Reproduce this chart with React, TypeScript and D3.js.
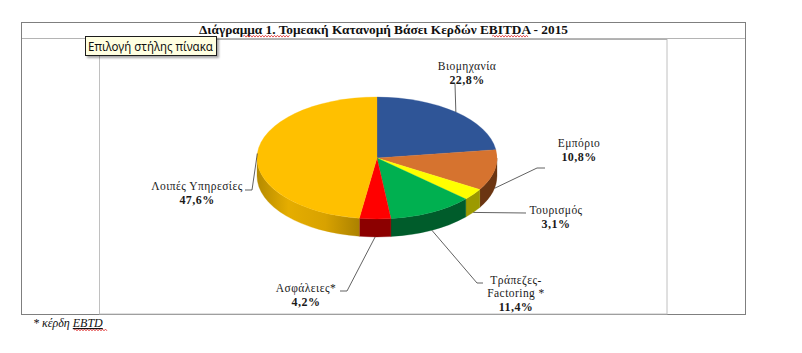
import React from "react";
import * as d3 from "d3";

// ---- data ----
const categories = ["Βιομηχανία", "Εμπόριο", "Τουρισμός", "Τράπεζες-Factoring *", "Ασφάλειες*", "Λοιπές Υπηρεσίες"];
const values = [22.8, 10.8, 3.1, 11.4, 4.2, 47.6];
const pctLabels = ["22,8%", "10,8%", "3,1%", "11,4%", "4,2%", "47,6%"];
const labelLines = [["Βιομηχανία"], ["Εμπόριο"], ["Τουρισμός"], ["Τράπεζες-", "Factoring  *"], ["Ασφάλειες*"], ["Λοιπές Υπηρεσίες"]];
const titleText = "Διάγραμμα 1. Τομεακή Κατανομή  Βάσει Κερδών EBITDA - 2015";
const footnoteText = "* κέρδη ";
const footnoteAbbr = "EBTD";
const tooltipText = "Επιλογή στήλης πίνακα";

// ---- styles / layout ----
const topColors = ["#2f5597", "#d6732f", "#ffff00", "#00b050", "#ff0000", "#ffc000"];
const sideColors = ["#1f3864", "#6b3512", "#9c9a00", "#005c2b", "#8c0000", "url(#goldSide)"];
const W = 802, H = 353;
const cx = 377, cy = 158, rx = 120, ry = 61, depth = 18;
const lineGap = 13.5;
// label layout: center x, first line center y, leader elbow points
const labelLayout = [
  { x: 467, y: 66, elbow: [[455, 84]] },
  { x: 579, y: 143, elbow: [[545, 168], [537, 168]] },
  { x: 556, y: 210, elbow: [[526, 213]] },
  { x: 516, y: 280, elbow: [[483, 283], [477, 283]] },
  { x: 306, y: 288, elbow: [[340, 291], [347, 291]] },
  { x: 197, y: 186, elbow: [[245, 190], [252, 190]] },
];

function squiggle(x0: number, x1: number, y: number) {
  const p = d3.path();
  p.moveTo(x0, y);
  let up = true;
  for (let x = x0 + 1.5; x <= x1; x += 1.5) {
    p.lineTo(x, y + (up ? -0.9 : 0.9));
    up = !up;
  }
  return p.toString();
}

export default function App() {
  const pie = d3.pie<number>().sort(null).value((d) => d).startAngle(0).endAngle(2 * Math.PI);
  const arcs = pie(values);
  const arcGen = d3.arc<d3.PieArcDatum<number>>().innerRadius(0).outerRadius(rx);
  const P = (a: number, dy = 0): [number, number] => [cx + rx * Math.sin(a), cy - ry * Math.cos(a) + dy];

  const sides = arcs.map((a, i) => {
    const s = Math.max(a.startAngle, Math.PI / 2);
    const e = Math.min(a.endAngle, (3 * Math.PI) / 2);
    if (s >= e) return null;
    const p0 = P(s), p1 = P(e), p2 = P(e, depth), p3 = P(s, depth);
    const d = `M${p0[0]},${p0[1]}A${rx},${ry} 0 0 1 ${p1[0]},${p1[1]}L${p2[0]},${p2[1]}A${rx},${ry} 0 0 0 ${p3[0]},${p3[1]}Z`;
    return <path key={i} d={d} fill={sideColors[i]} stroke={sideColors[i] as string} strokeWidth={0.3} />;
  });

  const leaders = arcs.map((a, i) => {
    const mid = (a.startAngle + a.endAngle) / 2;
    const visibleSide = mid > Math.PI / 2 && mid < (3 * Math.PI) / 2;
    const anchor = P(mid, visibleSide ? depth : 0);
    const pts = [...labelLayout[i].elbow, anchor] as [number, number][];
    return (
      <path key={i} d={d3.line()(pts) as string} fill="none" stroke="#3a3a3a" strokeWidth={0.8} />
    );
  });

  const labels = arcs.map((a, i) => {
    const L = labelLayout[i];
    const lines = labelLines[i];
    return (
      <g key={i} fontFamily="'Liberation Serif', 'DejaVu Serif', serif" fontSize={11.5} letterSpacing={0.45} textAnchor="middle" fill="#1a1a1a">
        {lines.map((t, j) => (
          <text key={j} x={L.x} y={L.y + j * 13} dy="0.35em">{t}</text>
        ))}
        <text x={L.x} y={L.y + (lines.length - 1) * 13 + lineGap} dy="0.35em" fontWeight="bold" fontSize={12}>{pctLabels[i]}</text>
      </g>
    );
  });

  return (
    <div style={{ width: W, height: H }}>
      <style>{`body{margin:0}`}</style>
      <svg width={W} height={H} style={{ display: "block", background: "#fff" }}>
        <defs>
          <linearGradient id="goldSide" gradientUnits="userSpaceOnUse" x1={cx - rx} y1={0} x2={cx - 15} y2={0}>
            <stop offset="0" stopColor="#b58a00" />
            <stop offset="0.3" stopColor="#e5ad00" />
            <stop offset="0.65" stopColor="#d8a200" />
            <stop offset="1" stopColor="#a87f00" />
          </linearGradient>
          <filter id="tipShadow" x="-10%" y="-30%" width="130%" height="180%">
            <feDropShadow dx="2" dy="2" stdDeviation="1.2" floodColor="#000" floodOpacity="0.35" />
          </filter>
        </defs>

        {/* frames */}
        <rect x={21.5} y={22.5} width={724} height={292} fill="none" stroke="#7f7f7f" strokeWidth={1} />
        <line x1={22} x2={745} y1={38.5} y2={38.5} stroke="#b4b4b4" strokeWidth={1} />
        <rect x={99.5} y={39} width={567.5} height={275} fill="#fff" stroke="#c0c0c0" strokeWidth={1} />
        <line x1={99} x2={667} y1={39.2} y2={39.2} stroke="#b0b0b0" strokeWidth={1.5} />

        {/* title */}
        <text x={199} y={34} textLength={369} lengthAdjust="spacingAndGlyphs" fontFamily="'Liberation Serif', 'Times New Roman', serif" fontSize={13.5} fontWeight="bold" fill="#111">{titleText}</text>
        <path d={squiggle(243, 290, 36.2)} stroke="#e03030" strokeWidth={0.8} fill="none" />
        <path d={squiggle(492, 528, 36.2)} stroke="#e03030" strokeWidth={0.8} fill="none" />

        {/* pie sides and top */}
        <g>{sides}</g>
        <g transform={`translate(${cx},${cy}) scale(1,${ry / rx})`}>
          {arcs.map((a, i) => (
            <path key={i} d={arcGen(a) as string} fill={topColors[i]} stroke={topColors[i]} strokeWidth={0.4} />
          ))}
        </g>

        {leaders}
        {labels}

        {/* footnote */}
        <text x={33} y={327} fontFamily="'Liberation Serif', 'Times New Roman', serif" fontSize={12} fontStyle="italic" fill="#111">
          {footnoteText}
          <tspan textDecoration="underline">{footnoteAbbr}</tspan>
        </text>
        <path d={squiggle(74, 107, 330)} stroke="#e03030" strokeWidth={0.8} fill="none" />

        {/* tooltip */}
        <g filter="url(#tipShadow)">
          <rect x={85.5} y={36.5} width={131} height={19} fill="#ffffe1" stroke="#1a1a1a" strokeWidth={1} />
        </g>
        <text x={88} y={50.5} fontFamily="'Noto Sans', 'Open Sans', sans-serif" fontSize={12} fill="#111" textLength={125} lengthAdjust="spacingAndGlyphs">{tooltipText}</text>
      </svg>
    </div>
  );
}
